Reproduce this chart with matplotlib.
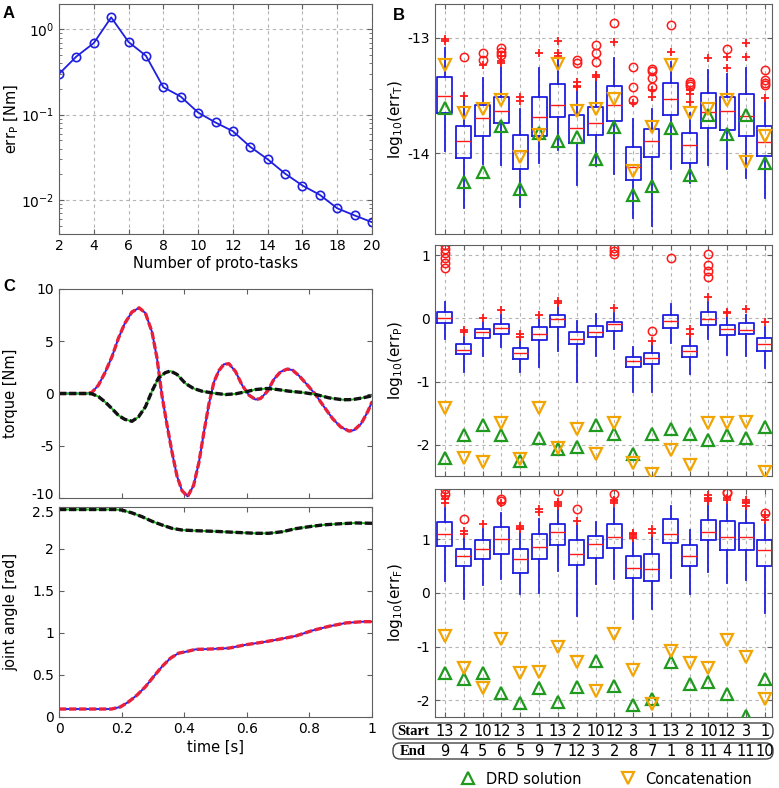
import matplotlib
matplotlib.use("Agg")
import matplotlib.pyplot as plt
import numpy as np
from matplotlib.lines import Line2D
from matplotlib.patches import FancyBboxPatch
from matplotlib import transforms

plt.rcParams['font.family'] = ['DejaVu Sans']
plt.rcParams['axes.unicode_minus'] = False
plt.rcParams['xtick.direction'] = 'in'
plt.rcParams['ytick.direction'] = 'in'
plt.rcParams['xtick.top'] = True
plt.rcParams['ytick.right'] = True
plt.rcParams['axes.edgecolor'] = '#606060'
plt.rcParams['xtick.color'] = '#606060'
plt.rcParams['ytick.color'] = '#606060'
plt.rcParams['xtick.labelcolor'] = 'black'
plt.rcParams['ytick.labelcolor'] = 'black'

# ---------------- Data ----------------
# Panel A
n_proto = [2, 3, 4, 5, 6, 7, 8, 9, 10, 11, 12, 13, 14, 15, 16, 17, 18, 19, 20]
err_p_A = [0.30, 0.48, 0.69, 1.38, 0.71, 0.49, 0.21, 0.163, 0.106, 0.081, 0.064,
           0.042, 0.030, 0.0204, 0.0148, 0.0115, 0.0080, 0.0066, 0.0055]

# Panel B -- start/end labels
start_ids = [13, 2, 10, 12, 3, 1, 13, 2, 10, 12, 3, 1, 13, 2, 10, 12, 3, 1]
end_ids = [9, 4, 5, 6, 5, 9, 7, 12, 3, 2, 8, 7, 1, 8, 11, 4, 11, 10]

# B top: log10(err_T)
T_q1 = [-13.652, -14.04, -13.853, -13.733, -14.135, -13.853, -13.687, -13.91, -13.842,
        -13.724, -14.233, -14.03, -13.667, -14.08, -13.776, -13.796, -13.845, -14.026]
T_med = [-13.50, -13.89, -13.695, -13.632, -13.98, -13.687, -13.58, -13.78, -13.733,
         -13.58, -14.12, -13.89, -13.53, -13.925, -13.64, -13.632, -13.675, -13.905]
T_q3 = [-13.342, -13.767, -13.583, -13.509, -13.84, -13.514, -13.40, -13.672, -13.595,
        -13.417, -13.94, -13.79, -13.394, -13.82, -13.474, -13.509, -13.486, -13.767]
T_wlo = [-13.98, -14.47, -14.09, -14.10, -14.46, -14.08, -13.97, -14.27, -14.11,
         -14.18, -14.56, -14.63, -14.13, -14.256, -14.10, -14.13, -14.21, -14.385]
T_whi = [-13.09, -13.52, -13.35, -13.25, -13.62, -13.26, -13.19, -13.44, -13.365,
         -13.18, -13.70, -13.62, -13.21, -13.647, -13.28, -13.31, -13.26, -13.55]
T_plus = [[-13.01, -13.03], [-13.50], [-13.24], [-13.22, -13.16, -13.20], [-13.51, -13.55],
          [-13.135], [-13.03, -13.135, -13.16], [-13.38, -13.42, -13.43], [-13.32, -13.34],
          [-13.04], [-13.566], [-13.45, -13.51], [-13.12], [-13.56, -13.49, -13.45],
          [-13.18], [-13.26, -13.17], [-13.05, -13.17], [-13.517]]
T_circ = [[], [-13.17], [-13.13, -13.195], [-13.09, -13.12, -13.15], [], [], [],
          [-13.19, -13.22], [-13.06, -13.135, -13.207], [-12.87],
          [-13.25, -13.43, -13.54], [-13.27, -13.29, -13.35, -13.43], [-12.89],
          [-13.38, -13.40, -13.42], [], [-13.10], [], [-13.28, -13.365, -13.39, -13.41]]
T_drd = [-13.61, -14.25, -14.16, -13.76, -14.31, -13.82, -13.89, -13.86, -14.05,
         -13.77, -14.36, -14.28, -13.78, -14.19, -13.667, -13.83, -13.67, -14.08]
T_cat = [-13.24, -13.65, -13.62, -13.54, -14.03, -13.84, -13.23, -13.63, -13.62,
         -13.526, -14.155, -13.77, -13.24, -13.647, -13.62, -13.537, -14.07, -13.853]

# B middle: log10(err_P)
P_q1 = [-0.079, -0.563, -0.316, -0.247, -0.647, -0.342, -0.132, -0.41, -0.29,
        -0.20, -0.763, -0.726, -0.147, -0.605, -0.105, -0.263, -0.253, -0.516]
P_med = [0.0, -0.50, -0.22, -0.158, -0.553, -0.247, -0.01, -0.326, -0.21,
         -0.095, -0.668, -0.63, -0.04, -0.51, -0.01, -0.168, -0.184, -0.41]
P_q3 = [0.105, -0.405, -0.168, -0.095, -0.474, -0.142, 0.053, -0.21, -0.116,
        -0.053, -0.605, -0.542, 0.053, -0.437, 0.095, -0.105, -0.079, -0.316]
P_wlo = [-0.33, -0.85, -0.60, -0.45, -0.85, -0.76, -0.52, -1.00, -0.60,
         -0.49, -1.17, -1.17, -0.395, -0.88, -0.33, -0.58, -0.60, -0.79]
P_whi = [0.26, -0.29, -0.05, 0.05, -0.316, 0.03, 0.21, -0.04, 0.063,
         0.08, -0.45, -0.395, 0.22, -0.263, 0.26, 0.053, 0.05, -0.13]
P_plus = [[], [-0.18, -0.22], [0.01], [0.126], [-0.24, -0.29], [0.053], [0.28, 0.25],
          [], [], [0.158], [], [-0.36], [], [-0.17, -0.25], [0.34], [0.105, 0.08],
          [0.147], [-0.063]]
P_circ = [[1.16, 1.09, 1.03, 0.95, 0.87, 0.79], [], [], [], [], [], [], [], [],
          [1.12, 1.06, 1.01], [], [-0.20], [0.96], [], [1.01, 0.85, 0.75, 0.66],
          [], [], []]
P_drd = [-2.20, -1.84, -1.69, -1.84, -2.26, -1.89, -2.07, -2.03, -1.69,
         -1.83, -2.15, -1.83, -1.75, -1.82, -1.92, -1.84, -1.89, -1.71]
P_cat = [-1.41, -2.20, -2.27, -1.66, -2.22, -1.41, -2.05, -1.75, -2.15,
         -1.65, -2.29, -2.46, -2.08, -2.31, -1.65, -1.66, -1.64, -2.42]

# B bottom: log10(err_F)
F_q1 = [0.868, 0.496, 0.62, 0.73, 0.372, 0.62, 0.88, 0.515, 0.65,
        0.837, 0.267, 0.217, 0.93, 0.496, 0.973, 0.787, 0.787, 0.496]
F_med = [1.085, 0.682, 0.806, 1.004, 0.62, 0.856, 1.128, 0.73, 0.90,
         1.04, 0.465, 0.446, 1.097, 0.682, 1.128, 1.035, 1.035, 0.794]
F_q3 = [1.32, 0.818, 0.98, 1.227, 0.806, 1.10, 1.283, 0.99, 1.054,
        1.283, 0.682, 0.725, 1.376, 0.88, 1.35, 1.333, 1.30, 0.973]
F_wlo = [0.217, -0.11, 0.136, 0.248, -0.02, 0.0, 0.40, -0.434, 0.155,
         0.248, -0.496, -0.298, 0.28, -0.03, 0.384, 0.174, 0.23, -0.372]
F_whi = [1.58, 1.023, 1.178, 1.488, 1.116, 1.376, 1.56, 1.27, 1.32,
         1.58, 0.99, 1.054, 1.62, 1.16, 1.67, 1.67, 1.61, 1.30]
F_plus = [[1.74, 1.67, 1.80], [1.15, 1.085], [1.27], [1.67], [1.24, 1.19, 1.21],
          [1.56, 1.50], [1.686, 1.61, 1.65], [1.333], [], [1.72, 1.67, 1.70],
          [1.116, 1.066, 1.023, 1.09, 1.04], [1.178, 1.116], [], [],
          [1.81, 1.77, 1.705, 1.74], [1.77, 1.72], [1.72, 1.67, 1.62, 1.69], [1.438, 1.36]]
F_circ = [[1.93, 1.83], [1.376], [], [1.736, 1.705], [], [], [1.89], [1.55], [],
          [1.83], [], [], [], [], [], [1.87, 1.85], [], [1.475]]
F_drd = [-1.50, -1.60, -1.50, -1.87, -2.05, -1.767, -2.03, -1.75, -1.27,
         -1.74, -2.08, -1.98, -1.29, -1.705, -1.66, -1.89, -2.29, -1.60]
F_cat = [-0.806, -1.395, -1.767, -0.856, -1.49, -1.476, -1.00, -1.29, -1.83,
         -0.775, -1.44, -2.06, -1.085, -1.314, -1.395, -0.887, -1.197, -1.98]

# Panel C: torque
t_tq = [0.0, 0.089, 0.105, 0.126, 0.147, 0.169, 0.19, 0.21, 0.233, 0.256, 0.276, 0.297,
        0.313, 0.329, 0.345, 0.361, 0.377, 0.393, 0.411, 0.43, 0.447, 0.463, 0.479,
        0.495, 0.511, 0.527, 0.543, 0.564, 0.585, 0.607, 0.628, 0.644, 0.666, 0.687,
        0.708, 0.73, 0.746, 0.767, 0.794, 0.821, 0.847, 0.874, 0.90, 0.927, 0.943,
        0.965, 0.986, 1.0]
tq1 = [0.0, 0.0, 0.1, 0.8, 2.0, 3.5, 5.3, 6.7, 7.8, 8.2, 7.7, 5.9,
       3.4, -0.2, -3.0, -5.6, -7.9, -9.3, -9.85, -8.8, -6.6, -3.7, -1.0,
       1.1, 2.2, 2.8, 2.85, 2.1, 0.8, -0.16, -0.58, -0.48, 0.22, 1.38,
       2.08, 2.34, 2.24, 1.7, 0.8, -0.16, -1.28, -2.4, -3.2, -3.6, -3.5,
       -2.9, -1.76, -0.8]
t_tq2 = [0.0, 0.089, 0.105, 0.126, 0.147, 0.169, 0.19, 0.21, 0.233, 0.254, 0.276, 0.297,
         0.318, 0.34, 0.356, 0.377, 0.404, 0.43, 0.457, 0.495, 0.532, 0.564, 0.596,
         0.628, 0.666, 0.698, 0.735, 0.778, 0.821, 0.863, 0.906, 0.938, 0.97, 1.0]
tq2 = [0.0, 0.0, -0.03, -0.3, -0.8, -1.44, -2.1, -2.47, -2.66, -2.24, -1.28, 0.22,
       1.5, 2.0, 2.15, 1.83, 0.96, 0.48, 0.22, 0.03, -0.1, -0.03, 0.16,
       0.38, 0.48, 0.38, 0.22, 0.1, -0.1, -0.42, -0.6, -0.58, -0.42, -0.22]

# Panel C: joint angle
t_q1 = [0.0, 0.168, 0.196, 0.222, 0.249, 0.276, 0.302, 0.329, 0.356, 0.382, 0.409,
        0.436, 0.489, 0.543, 0.596, 0.65, 0.703, 0.756, 0.81, 0.863, 0.917, 0.97, 1.0]
q1 = [0.095, 0.095, 0.12, 0.18, 0.26, 0.36, 0.48, 0.60, 0.70, 0.76, 0.78,
      0.805, 0.81, 0.82, 0.86, 0.89, 0.925, 0.964, 1.03, 1.08, 1.12, 1.135, 1.135]
t_q2 = [0.0, 0.18, 0.2, 0.233, 0.265, 0.297, 0.329, 0.361, 0.393, 0.436, 0.5, 0.564,
        0.628, 0.671, 0.714, 0.756, 0.8, 0.842, 0.895, 0.949, 1.0]
q2 = [2.47, 2.47, 2.464, 2.43, 2.385, 2.33, 2.286, 2.246, 2.226, 2.218, 2.21, 2.198,
      2.187, 2.187, 2.206, 2.242, 2.266, 2.286, 2.30, 2.31, 2.306]

# ---------------- Styles ----------------
BLUE = '#1f1fe0'
RED = '#ff1a1a'
GREEN = '#1f9a1f'
ORANGE = '#f2a500'
GRIDC = '#b5b5b5'

W, H = 779, 788
fig = plt.figure(figsize=(W / 100, H / 100), dpi=100)


def rect(l, r, t, b):
    return [l / W, 1 - b / H, (r - l) / W, (b - t) / H]


def grid_style(ax):
    ax.grid(True, ls=(0, (3, 3)), color=GRIDC, lw=0.8)
    ax.set_axisbelow(True)


# ---------------- Panel A ----------------
axA = fig.add_axes(rect(59, 372, 4, 234))
axA.plot(n_proto, err_p_A, '-o', color=BLUE, lw=1.3, ms=6, mfc='none', mew=1.2)
axA.set_yscale('log')
axA.set_xlim(2, 20)
axA.set_ylim(0.004, 1.98)
axA.set_xticks(range(2, 21, 2))
axA.grid(True, which='major', ls=(0, (3, 3)), color=GRIDC, lw=0.8)
axA.set_axisbelow(True)
axA.tick_params(labelsize=10)
axA.set_xlabel('Number of proto-tasks', fontsize=10.5, labelpad=2)
axA.set_ylabel(r'err$_{\mathrm{P}}$ [Nm]', fontsize=10.5)
fig.text(3 / W, 1 - 13 / H, 'A', fontsize=12, fontweight='bold',
         family='Liberation Sans', va='center')

# ---------------- Panel B ----------------
pos = np.arange(1, 19)


def box_panel(ax, q1_, med_, q3_, wlo_, whi_, plus_, circ_, drd_, cat_, ylim, yticks, ylabel):
    stats = []
    for i in range(len(pos)):
        stats.append(dict(med=med_[i], q1=q1_[i], q3=q3_[i], whislo=wlo_[i],
                          whishi=whi_[i], fliers=plus_[i]))
    grid_style(ax)
    ax.bxp(stats, positions=pos, widths=0.8, showcaps=False,
           boxprops=dict(color=BLUE, lw=1.3),
           whiskerprops=dict(color=BLUE, lw=1.3),
           medianprops=dict(color=RED, lw=1.0),
           flierprops=dict(marker='+', mec=RED, ms=6, mew=1.3, ls='none'))
    for i, vals in enumerate(circ_):
        if vals:
            ax.plot([pos[i]] * len(vals), vals, 'o', mfc='none', mec=RED, ms=6, mew=1.1)
    ax.plot(pos, drd_, '^', mfc='none', mec=GREEN, ms=8, mew=1.6, zorder=5)
    ax.plot(pos, cat_, 'v', mfc='none', mec=ORANGE, ms=8, mew=1.6, zorder=5)
    ax.set_xlim(0.47, 18.38)
    ax.set_ylim(*ylim)
    ax.set_yticks(yticks)
    ax.set_xticks(pos)
    ax.set_xticklabels([])
    ax.tick_params(labelsize=10)
    ax.set_ylabel(ylabel, fontsize=11)


axB1 = fig.add_axes(rect(435, 772, 4, 234))
box_panel(axB1, T_q1, T_med, T_q3, T_wlo, T_whi, T_plus, T_circ, T_drd, T_cat,
          (-14.695, -12.71), [-14, -13], r'log$_{10}$(err$_{\mathrm{T}}$)')
axB2 = fig.add_axes(rect(435, 772, 245, 476))
box_panel(axB2, P_q1, P_med, P_q3, P_wlo, P_whi, P_plus, P_circ, P_drd, P_cat,
          (-2.49, 1.16), [-2, -1, 0, 1], r'log$_{10}$(err$_{\mathrm{P}}$)')
axB3 = fig.add_axes(rect(435, 772, 489, 717))
box_panel(axB3, F_q1, F_med, F_q3, F_wlo, F_whi, F_plus, F_circ, F_drd, F_cat,
          (-2.31, 1.93), [-2, -1, 0, 1], r'log$_{10}$(err$_{\mathrm{F}}$)')
for ax in (axB1, axB2, axB3):
    ax.yaxis.set_label_coords(-0.088, 0.5)

fig.text(393 / W, 1 - 15 / H, 'B', fontsize=12, fontweight='bold',
         family='Liberation Sans', va='center')

# Start / End rows
trans = transforms.blended_transform_factory(axB3.transData, fig.transFigure)
for (ytop, ybot, label, ids) in [(723, 739, 'Start', start_ids), (743, 759, 'End', end_ids)]:
    patch = FancyBboxPatch((393 / W, 1 - ybot / H), (773 - 393) / W, (ybot - ytop) / H,
                           boxstyle='round,pad=0,rounding_size=0.009',
                           transform=fig.transFigure, fc='white', ec='#444444', lw=1.0,
                           clip_on=False)
    fig.add_artist(patch)
    yc = 1 - ((ytop + ybot) / 2 + 0.5) / H
    fig.text(413 / W, yc, label, fontsize=10.5, fontweight='bold',
             family='Liberation Serif', ha='center', va='center')
    for p, v in zip(pos, ids):
        fig.text(p, yc, str(v), transform=trans, fontsize=10.5, ha='center', va='center')

# Legend
handles = [Line2D([], [], marker='^', ls='none', mfc='none', mec=GREEN, ms=8, mew=1.6,
                  label='DRD solution'),
           Line2D([], [], marker='v', ls='none', mfc='none', mec=ORANGE, ms=8, mew=1.6,
                  label='Concatenation')]
fig.legend(handles=handles, loc='center', bbox_to_anchor=(606 / W, 1 - 779 / H), ncol=2,
           frameon=False, fontsize=10.5, columnspacing=2.6, handletextpad=0.6,
           handlelength=1.2)

# ---------------- Panel C ----------------
axC1 = fig.add_axes(rect(59, 372, 289, 498))
axC1.plot(t_tq, tq1, '-', color='#2020ff', lw=1.4)
axC1.plot(t_tq, tq1, color='#e8203a', lw=2.4, dashes=(2.2, 0.8))
axC1.plot(t_tq2, tq2, '-', color='#22bb22', lw=1.4)
axC1.plot(t_tq2, tq2, color='#111111', lw=2.4, dashes=(2.2, 0.8))
axC1.set_xlim(0, 1)
axC1.set_ylim(-10, 10)
axC1.set_yticks([-10, -5, 0, 5, 10])
axC1.set_xticks([0, 0.2, 0.4, 0.6, 0.8, 1.0])
axC1.set_xticklabels([])
axC1.tick_params(labelsize=10)
axC1.set_ylabel('torque [Nm]', fontsize=10.5)

axC2 = fig.add_axes(rect(59, 372, 507, 717))
axC2.plot(t_q1, q1, '-', color='#2020ff', lw=1.4)
axC2.plot(t_q1, q1, color='#e8203a', lw=2.4, dashes=(2.2, 0.8))
axC2.plot(t_q2, q2, '-', color='#22bb22', lw=1.4)
axC2.plot(t_q2, q2, color='#111111', lw=2.4, dashes=(2.2, 0.8))
axC2.set_xlim(0, 1)
axC2.set_ylim(0, 2.5)
axC2.set_yticks([0, 0.5, 1, 1.5, 2, 2.5])
axC2.set_yticklabels(['0', '0.5', '1', '1.5', '2', '2.5'])
axC2.set_xticks([0, 0.2, 0.4, 0.6, 0.8, 1.0])
axC2.set_xticklabels(['0', '0.2', '0.4', '0.6', '0.8', '1'])
axC2.tick_params(labelsize=10)
axC2.set_xlabel('time [s]', fontsize=10.5, labelpad=3)
axC2.set_ylabel('joint angle [rad]', fontsize=10.5)
for ax in (axC1, axC2):
    ax.yaxis.set_label_coords(-0.13, 0.5)
axA.yaxis.set_label_coords(-0.12, 0.5)

# nudge the two touching tick labels apart (as in the reference)
lbl_m10 = axC1.yaxis.get_major_ticks()[0].label1
lbl_m10.set_transform(lbl_m10.get_transform() +
                      transforms.ScaledTranslation(0, 3.5 / 72, fig.dpi_scale_trans))
lbl_25 = axC2.yaxis.get_major_ticks()[-1].label1
lbl_25.set_transform(lbl_25.get_transform() +
                     transforms.ScaledTranslation(0, -3.0 / 72, fig.dpi_scale_trans))

fig.text(3 / W, 1 - 287 / H, 'C', fontsize=12, fontweight='bold',
         family='Liberation Sans', va='center')

fig.savefig('out.png', dpi=100)
